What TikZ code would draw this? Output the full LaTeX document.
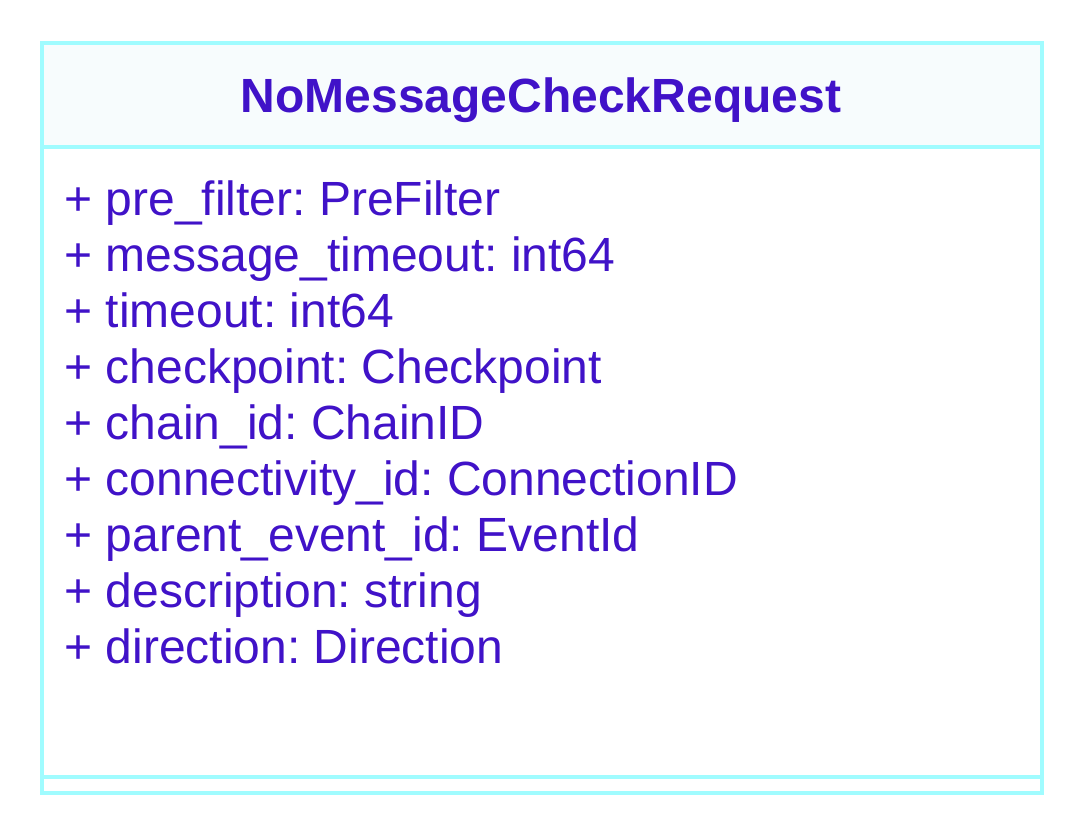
\documentclass[tikz,border=0pt]{standalone}
\usepackage{fontspec}
\setmainfont{Liberation Sans}
\frenchspacing
\definecolor{umlcyan}{RGB}{160,252,255}
\definecolor{umlhead}{RGB}{247,252,253}
\definecolor{umltext}{RGB}{64,18,200}

\begin{document}
\begin{tikzpicture}[x=0.5pt,y=-0.5pt,
  frame/.style={draw=umlcyan,line width=2pt},
  member/.style={anchor=base west,inner sep=0pt,text=umltext,font=\fontsize{24}{28}\selectfont}]
\useasboundingbox (0,0) rectangle (1084,836);
% ---- klasa NoMessageCheckRequest ----
\fill[white] (0,0) rectangle (1084,836);
\fill[umlhead] (42,43) rectangle (1042,147);
\draw[frame] (42,43) rectangle (1042,793);
\draw[frame] (42,147) -- (1042,147);
\draw[frame] (42,777) -- (1042,777);
\node[anchor=base,inner sep=0pt,text=umltext,font=\fontsize{24}{28}\selectfont\bfseries] (title) at (541,112) {NoMessageCheckRequest};
% pola klasy
\foreach \i/\t in {1/{+ pre\_filter: PreFilter},
                   2/{+ message\_timeout: int64},
                   3/{+ timeout: int64},
                   4/{+ checkpoint: Checkpoint},
                   5/{+ chain\_id: ChainID},
                   6/{+ connectivity\_id: ConnectionID},
                   7/{+ parent\_event\_id: EventId},
                   8/{+ description: string},
                   9/{+ direction: Direction}}{
  \node[member] (m\i) at (64,{215+56*(\i-1)}) {\t};}
\end{tikzpicture}
\end{document}
